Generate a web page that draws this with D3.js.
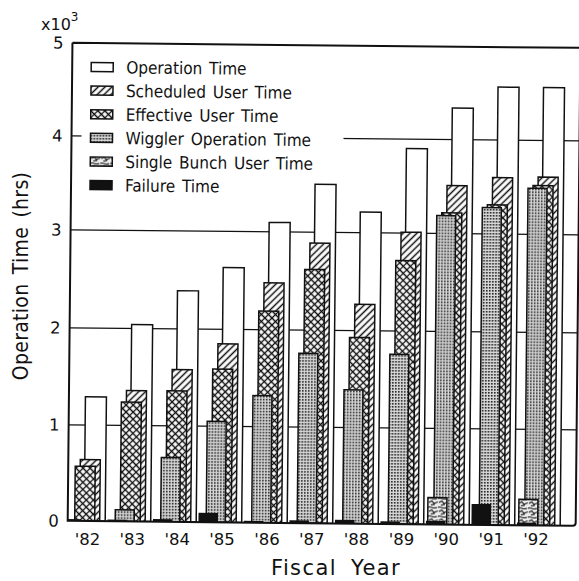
<!DOCTYPE html>
<html lang="en">
<head>
<meta charset="UTF-8">
<title>Operation Time</title>
<script src="https://d3js.org/d3.v7.min.js"></script>
<style>
  body { margin: 0; background: #fff; }
  text { font-family: "DejaVu Sans", sans-serif; fill: #111; }
</style>
</head>
<body>
<script>
// values (x10^3 hrs)
const years = ["'82", "'83", "'84", "'85", "'86", "'87", "'88", "'89", "'90", "'91", "'92"];
const operationTime = [1.29, 2.04, 2.39, 2.63, 3.10, 3.51, 3.22, 3.90, 4.34, 4.57, 4.57];
const scheduledUser = [0.64, 1.36, 1.58, 1.85, 2.48, 2.89, 2.27, 3.01, 3.51, 3.60, 3.61];
const effectiveUser = [0.57, 1.24, 1.36, 1.59, 2.19, 2.62, 1.93, 2.72, 3.22, 3.31, 3.52];
const wigglerOp     = [0.00, 0.12, 0.67, 1.05, 1.32, 1.76, 1.39, 1.76, 3.19, 3.28, 3.49];
const singleBunch   = [0.00, 0.00, 0.00, 0.00, 0.00, 0.00, 0.00, 0.00, 0.28, 0.00, 0.27];
const failureTime   = [0.01, 0.01, 0.02, 0.09, 0.01, 0.02, 0.03, 0.02, 0.03, 0.21, 0.02];
const yTicks = [0, 1, 2, 3, 4, 5];
const gridTicks = [1, 2, 3, 4];
const legendNames = ["Operation Time", "Scheduled User Time", "Effective User Time",
                     "Wiggler Operation Time", "Single Bunch User Time", "Failure Time"];

var svg = d3.select("body").append("svg")
    .attr("width", 579)
    .attr("height", 581);

var defs = svg.append("defs");

// diagonal hatch
var p = defs.append("pattern").attr("id", "hatch")
    .attr("patternUnits", "userSpaceOnUse").attr("width", 4.8).attr("height", 4.8)
    .attr("patternTransform", "rotate(45)");
p.append("rect").attr("width", 4.8).attr("height", 4.8).attr("fill", "#fff");
p.append("line").attr("x1", 2.4).attr("x2", 2.4).attr("y1", 0).attr("y2", 4.8)
    .attr("stroke", "#111").attr("stroke-width", 1.5);

// cross hatch
p = defs.append("pattern").attr("id", "cross")
    .attr("patternUnits", "userSpaceOnUse").attr("width", 5).attr("height", 5)
    .attr("patternTransform", "rotate(45)");
p.append("rect").attr("width", 5).attr("height", 5).attr("fill", "#fff");
p.append("path").attr("d", "M0,2.5H5M2.5,0V5")
    .attr("stroke", "#111").attr("stroke-width", 1.3);

// stipple
p = defs.append("pattern").attr("id", "dots")
    .attr("patternUnits", "userSpaceOnUse").attr("width", 3).attr("height", 3);
p.append("rect").attr("width", 3).attr("height", 3).attr("fill", "#d8d8d8");
p.append("rect").attr("width", 1.6).attr("height", 1.6).attr("fill", "#222");

// single bunch scribble
p = defs.append("pattern").attr("id", "scribble")
    .attr("patternUnits", "userSpaceOnUse").attr("width", 10).attr("height", 9);
p.append("rect").attr("width", 10).attr("height", 9).attr("fill", "#eee");
p.append("path").attr("d", "M0,2C3,0 5,4 9,2M1,6L4,4.5L6,7L10,5.5M3,8.5L7,8")
    .attr("stroke", "#111").attr("stroke-width", 1.1).attr("fill", "none");

defs.append("clipPath").attr("id", "plotclip")
  .append("rect").attr("x", 70).attr("y", 40).attr("width", 508).attr("height", 483);

// scales
var y = d3.scaleLinear().domain(yTicks).range([523, 427, 330, 232, 138, 45]);
var x = d3.scaleBand().domain(years).range([61, 61 + 45.5 * years.length]);
var xLab = d3.scalePoint().domain(years).range([87.5, 536]);

// the scanned chart is slightly tilted
var plot = svg.append("g").attr("transform", "rotate(0.57,290,290)");

// grid
plot.selectAll(".grid")
    .data(gridTicks)
  .enter().append("line")
    .attr("x1", 70).attr("x2", 578)
    .attr("y1", function(d) { return y(d); })
    .attr("y2", function(d) { return y(d); })
    .attr("stroke", "#111").attr("stroke-width", 1.3);

// legend background hides the grid
plot.append("rect").attr("x", 80).attr("y", 54).attr("width", 262).attr("height", 145)
    .attr("fill", "#fff");

var layers = [
  { vals: operationTime, dx: 25.5, w: 21, fill: "#fff" },
  { vals: scheduledUser, dx: 21,   w: 20, fill: "url(#hatch)" },
  { vals: effectiveUser, dx: 16,   w: 20, fill: "url(#cross)" },
  { vals: wigglerOp,     dx: 11,   w: 19, fill: "url(#dots)" },
  { vals: singleBunch,   dx: 5,    w: 19, fill: "url(#scribble)" },
  { vals: failureTime,   dx: 4,    w: 18, fill: "#111" }
];

var bars = plot.append("g").attr("clip-path", "url(#plotclip)");
layers.forEach(function(L) {
  bars.selectAll(null)
      .data(years.map(function(yr, i) { return { yr: yr, v: L.vals[i] }; })
                 .filter(function(d) { return d.v > 0; }))
    .enter().append("rect")
      .attr("x", function(d) { return x(d.yr) + L.dx; })
      .attr("width", L.w)
      .attr("y", function(d) { return y(d.v); })
      .attr("height", function(d) { return y(0) - y(d.v); })
      .attr("fill", L.fill)
      .attr("stroke", "#111")
      .attr("stroke-width", 1.5);
});

// frame
plot.append("path")
    .attr("d", "M70,45V523H575Q578,523 578,520V45M70,45H590")
    .attr("fill", "none").attr("stroke", "#111").attr("stroke-width", 2);

// y tick labels
plot.selectAll(".ytick")
    .data(yTicks)
  .enter().append("text")
    .attr("x", 61)
    .attr("y", function(d) { return y(d); })
    .attr("dy", "0.36em")
    .attr("text-anchor", "end")
    .style("font-size", "16.5px")
    .text(function(d) { return d; });

// legend
var legendFills = layers.map(function(L) { return L.fill; });
var lg = plot.selectAll(".leg")
    .data(legendNames)
  .enter().append("g")
    .attr("transform", function(d, i) { return "translate(89," + (69 + i * 23.6) + ")"; });
lg.append("rect")
    .attr("x", 0).attr("y", -4.5).attr("width", 22).attr("height", 9)
    .attr("fill", function(d, i) { return legendFills[i]; })
    .attr("stroke", "#111").attr("stroke-width", 1.5);
lg.append("text")
    .attr("x", 35).attr("dy", "0.36em")
    .style("font-family", "'DejaVu Sans Condensed', 'DejaVu Sans', sans-serif")
    .style("font-size", "17px")
    .style("word-spacing", "2px")
    .text(function(d) { return d; });

// x labels
svg.selectAll(".xlab")
    .data(years)
  .enter().append("text")
    .attr("x", function(d) { return xLab(d); })
    .attr("y", 545)
    .attr("text-anchor", "middle")
    .style("font-size", "16.5px")
    .text(function(d) { return d; });

// axis titles
svg.append("text")
    .attr("x", 336).attr("y", 575)
    .attr("text-anchor", "middle")
    .style("font-size", "21px")
    .style("letter-spacing", "1.4px")
    .style("word-spacing", "6px")
    .text("Fiscal Year");

svg.append("text")
    .attr("transform", "translate(28,276) rotate(-90)")
    .attr("text-anchor", "middle")
    .style("font-family", "'DejaVu Sans Condensed', 'DejaVu Sans', sans-serif")
    .style("font-size", "21px")
    .style("letter-spacing", "0.3px")
    .style("word-spacing", "3px")
    .text("Operation Time (hrs)");

var mult = svg.append("text").attr("x", 41).attr("y", 30).style("font-size", "16px");
mult.append("tspan").text("x10");
mult.append("tspan").attr("dy", -9).style("font-size", "12px").text("3");
</script>
</body>
</html>
